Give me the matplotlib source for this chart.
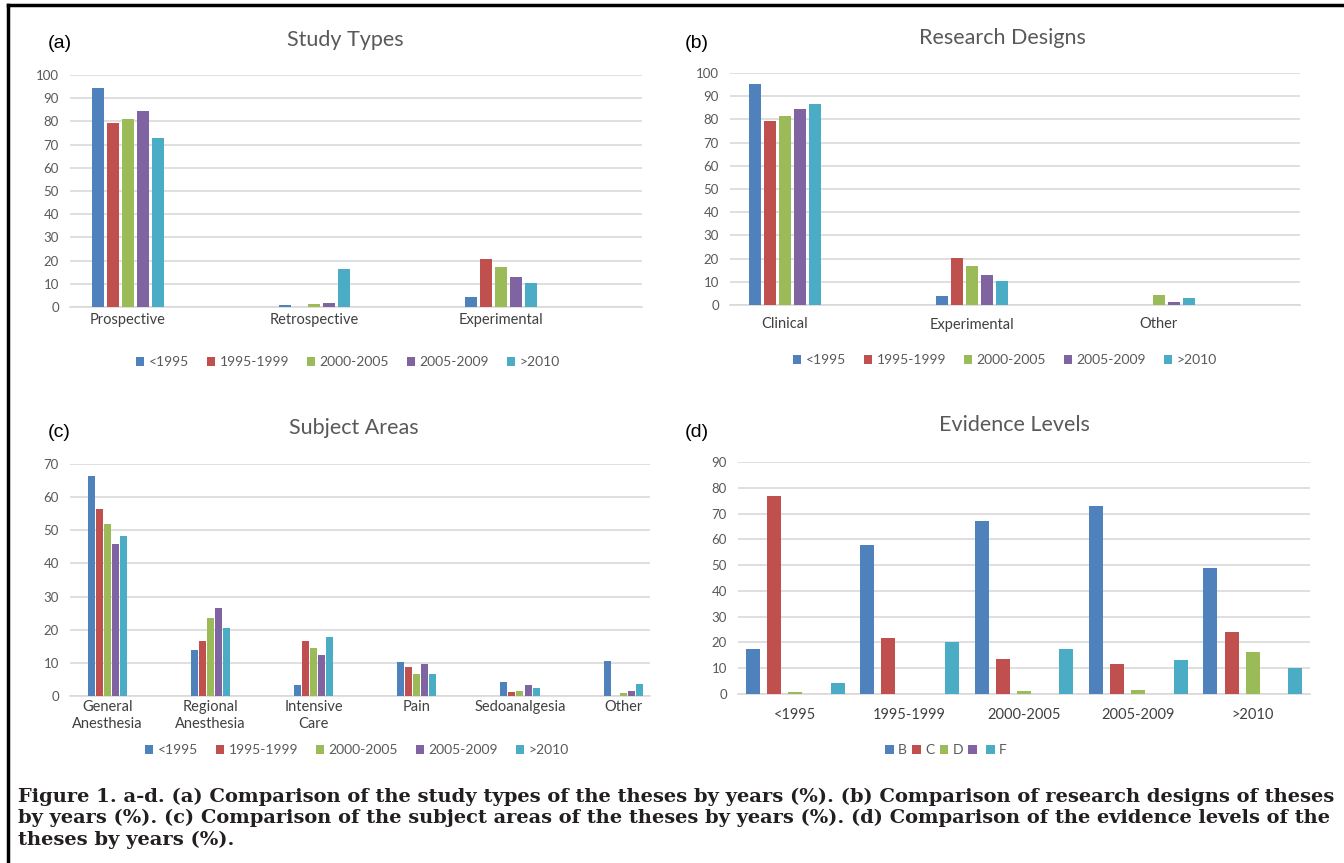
import matplotlib
matplotlib.use('Agg')
import matplotlib.pyplot as plt
from matplotlib.patches import Patch
from matplotlib.lines import Line2D
import numpy as np

# Serier (år) og farger
perioder = ['<1995', '1995-1999', '2000-2005', '2005-2009', '>2010']
farger = ['#4F81BD', '#C0504D', '#9BBB59', '#8064A2', '#4BACC6']

# (a) Study types
studietyper = ['Prospective', 'Retrospective', 'Experimental']
studie_verdier = [
    [94.4, 0.7, 4.2],
    [79.2, 0.0, 20.5],
    [80.9, 1.1, 17.2],
    [84.4, 1.7, 13.1],
    [72.9, 16.5, 10.3],
]

# (b) Research designs
design = ['Clinical', 'Experimental', 'Other']
design_verdier = [
    [95.4, 4.0, 0.0],
    [79.2, 20.4, 0.0],
    [81.3, 16.9, 4.4],
    [84.6, 12.9, 1.1],
    [86.5, 10.3, 2.9],
]

# (c) Subject areas
fagomrader = ['General\nAnesthesia', 'Regional\nAnesthesia', 'Intensive\nCare',
              'Pain', 'Sedoanalgesia', 'Other']
fag_verdier = [
    [66.3, 13.9, 3.2, 10.3, 4.3, 10.7],
    [56.3, 16.7, 16.7, 8.8, 1.2, 0.0],
    [52.0, 23.5, 14.4, 6.7, 1.5, 0.9],
    [45.9, 26.6, 12.4, 9.6, 3.2, 1.6],
    [48.4, 20.6, 17.8, 6.7, 2.4, 3.6],
]

# (d) Evidence levels (serier = nivå, kategorier = perioder)
nivaer = ['B', 'C', 'D', '', 'F']
niva_verdier = [
    [17.6, 57.7, 67.1, 73.0, 48.9],
    [77.0, 21.7, 13.6, 11.6, 23.9],
    [0.8, 0.0, 1.3, 1.6, 16.3],
    [0.0, 0.0, 0.0, 0.0, 0.0],
    [4.3, 20.3, 17.5, 13.3, 10.2],
]

W, H = 1344, 863
GRA = '#595959'
plt.rcParams['font.family'] = ['Lato', 'DejaVu Sans']

fig = plt.figure(figsize=(W / 100, H / 100), dpi=100)


def akse(x0, x1, ytop, ybunn):
    return fig.add_axes([x0 / W, 1 - ybunn / H, (x1 - x0) / W, (ybunn - ytop) / H])


def tegn_panel(ax, kategorier, verdier, serienavn, ymax, xlim, bredde, steg,
               bokstav, tittel, tittel_xy, bokstav_xy, legend_xy, pad, kolonneavstand=1.3):
    x = np.arange(len(kategorier))
    n = len(verdier)
    for i, (vals, farge) in enumerate(zip(verdier, farger)):
        ax.bar(x + (i - (n - 1) / 2) * steg, vals, width=bredde, color=farge, zorder=3)
    ax.set_xlim(*xlim)
    ax.set_ylim(0, ymax)
    ax.set_yticks(np.arange(0, ymax + 1, 10))
    ax.set_xticks(x)
    ax.set_xticklabels(kategorier, fontsize=10.5, color='#404040', linespacing=1.25)
    ax.tick_params(axis='y', length=0, pad=8, labelsize=9.5, labelcolor=GRA)
    ax.tick_params(axis='x', length=0, pad=pad)
    ax.grid(axis='y', color='#D9D9D9', linewidth=1.2, zorder=0)
    for s in ['top', 'right', 'left']:
        ax.spines[s].set_visible(False)
    ax.spines['bottom'].set_color('#D9D9D9')
    ax.spines['bottom'].set_linewidth(1.2)

    fig.text(tittel_xy[0] / W, 1 - tittel_xy[1] / H, tittel, fontsize=15.5,
             color=GRA, ha='center', va='center')
    fig.text(bokstav_xy[0] / W, 1 - bokstav_xy[1] / H, bokstav, fontsize=14,
             color='black', ha='left', va='center', family='Liberation Sans')

    handles = [Patch(facecolor=f, edgecolor='none') for f in farger[:n]]
    fig.legend(handles, serienavn, loc='center',
               bbox_to_anchor=(legend_xy[0] / W, 1 - legend_xy[1] / H),
               ncol=n, frameon=False, fontsize=10, labelcolor=GRA,
               handlelength=0.6, handleheight=0.6, handletextpad=0.3,
               columnspacing=kolonneavstand)


ax_a = akse(70, 642, 75, 307)
tegn_panel(ax_a, studietyper, studie_verdier, perioder, 100, (-0.31, 2.756),
           0.064, 0.08, '(a)', 'Study Types', (345, 40), (48, 44), (348, 362), 4)

ax_b = akse(730, 1300, 73, 305)
tegn_panel(ax_b, design, design_verdier, perioder, 100, (-0.294, 2.754),
           0.064, 0.08, '(b)', 'Research Designs', (1002, 38), (685, 44), (1005, 360), 9)

ax_c = akse(70, 650, 464, 696)
tegn_panel(ax_c, fagomrader, fag_verdier, perioder, 70, (-0.36, 5.26),
           0.068, 0.078, '(c)', 'Subject Areas', (354, 428), (48, 432), (357, 750), 3)

ax_d = akse(738, 1310, 462, 694)
tegn_panel(ax_d, perioder, niva_verdier, nivaer, 90, (-0.5, 4.5),
           0.122, 0.185, '(d)', 'Evidence Levels', (1014, 425), (685, 432), (946, 750), 10,
           kolonneavstand=0.4)

# Ramme rundt figuren
fig.add_artist(Line2D([8 / W, 1], [1 - 5 / H, 1 - 5 / H], color='black', linewidth=2.5))
fig.add_artist(Line2D([8 / W, 8 / W], [0, 1 - 5 / H], color='black', linewidth=2.5))

# Figurtekst, de to første linjene strekkes til full bredde
linjer = [
    'Figure 1. a-d. (a) Comparison of the study types of the theses by years (%). (b) Comparison of research designs of theses',
    'by years (%). (c) Comparison of the subject areas of the theses by years (%). (d) Comparison of the evidence levels of the',
    'theses by years (%).',
]
renderer = fig.canvas.get_renderer()
storrelse = 13
for i, (linje, y) in enumerate(zip(linjer, [797, 818, 840])):
    t = fig.text(18 / W, 1 - y / H, linje, fontsize=storrelse, fontweight='bold',
                 family='DejaVu Serif', color='#231F20', va='center', ha='left')
    if i == 0:
        bredde = t.get_window_extent(renderer).width
        storrelse = storrelse * 1315 / bredde
        t.set_fontsize(storrelse)
    elif i == 1:
        bredde = t.get_window_extent(renderer).width
        t.set_fontsize(storrelse * 1315 / bredde)

fig.savefig('out.png', dpi=100)
